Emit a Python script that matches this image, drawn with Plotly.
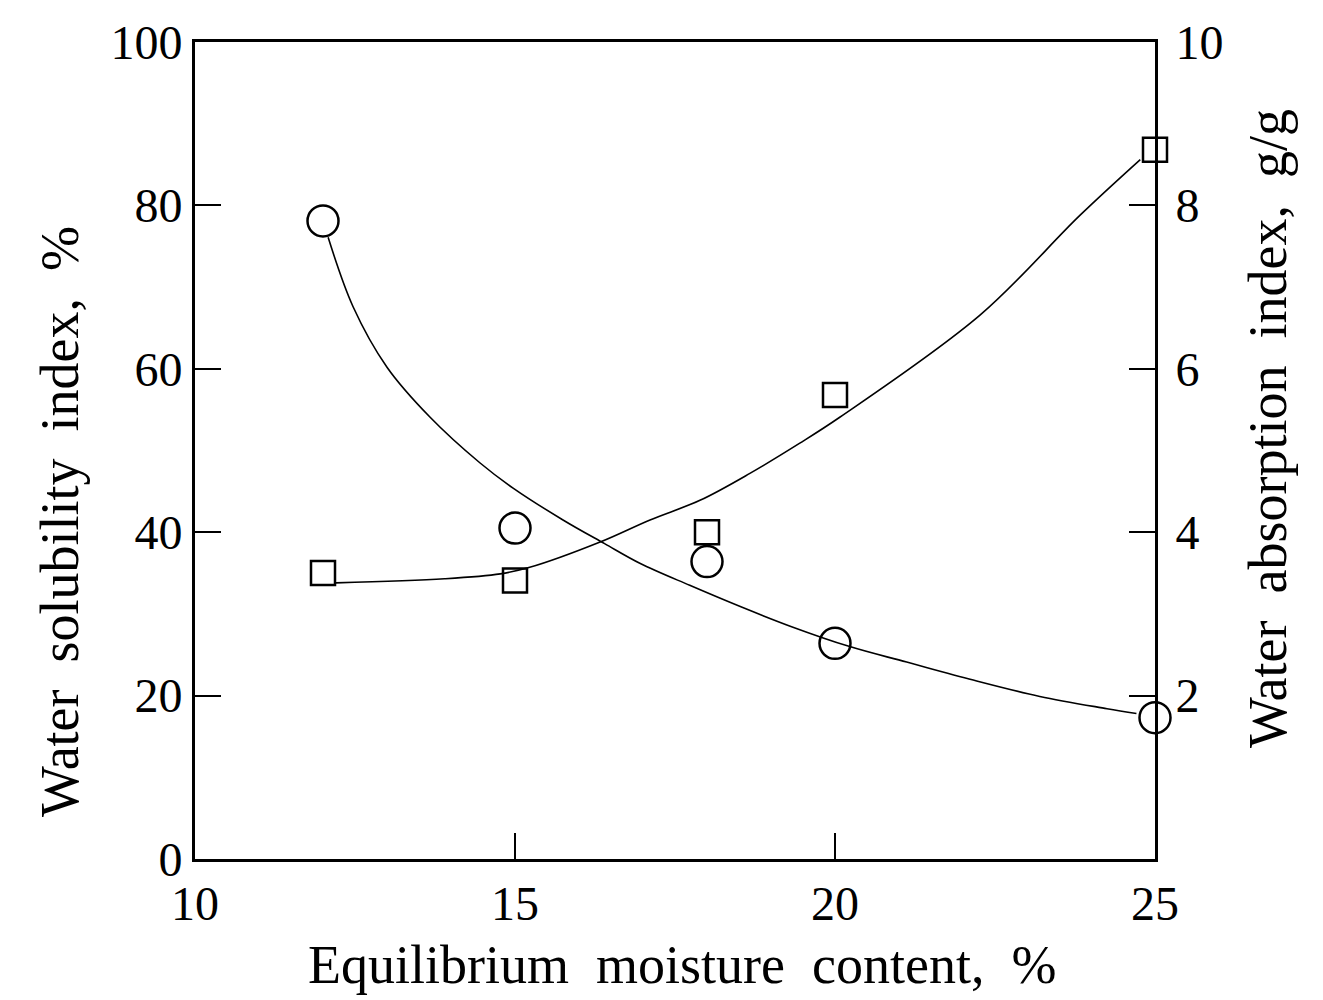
import plotly.graph_objects as go

# Measured data points
moisture = [12, 15, 18, 20, 25]
wsi = [78.1, 40.5, 36.4, 26.4, 17.3]          # Water solubility index, %
wai = [3.50, 3.41, 4.00, 5.68, 8.68]          # Water absorption index, g/g

# Fitted curves
wsi_fit_x = [12.08, 12.47, 13.0, 13.67, 14.45, 14.97, 15.75, 16.4, 16.95, 17.73, 18.52, 19.30,
             20.23, 21.12, 22.16, 23.20, 24.25, 24.71]
wsi_fit_y = [76.1, 67.6, 60.2, 54.1, 48.5, 45.4, 41.5, 38.6, 36.2, 33.5, 30.9, 28.5,
             26.0, 24.1, 21.9, 19.9, 18.4, 17.8]
wai_fit_x = [12.2, 13.9, 14.77, 15.23, 16.33, 17.11, 17.89, 18.67, 19.45, 20.08, 22.27, 23.83, 24.77]
wai_fit_y = [3.38, 3.43, 3.49, 3.57, 3.88, 4.15, 4.39, 4.72, 5.09, 5.41, 6.66, 7.88, 8.56]

x_ticks = [10, 15, 20, 25]
y_ticks = [0, 20, 40, 60, 80, 100]
y2_ticks = [2, 4, 6, 8, 10]

FONT = "Liberation Serif"
fig = go.Figure()

fig.add_trace(go.Scatter(x=wsi_fit_x, y=wsi_fit_y, mode="lines",
                         line=dict(color="black", width=1.6, shape="spline", smoothing=1.0),
                         showlegend=False, hoverinfo="skip"))
fig.add_trace(go.Scatter(x=wai_fit_x, y=wai_fit_y, mode="lines", yaxis="y2",
                         line=dict(color="black", width=1.6, shape="spline", smoothing=1.0),
                         showlegend=False, hoverinfo="skip"))
fig.add_trace(go.Scatter(x=moisture, y=wsi, mode="markers",
                         marker=dict(symbol="circle-open", size=31, color="black", line=dict(width=2.5)),
                         showlegend=False, cliponaxis=False))
fig.add_trace(go.Scatter(x=moisture, y=wai, mode="markers", yaxis="y2",
                         marker=dict(symbol="square-open", size=24, color="black", line=dict(width=2.5)),
                         showlegend=False, cliponaxis=False))

axis_common = dict(showgrid=False, zeroline=False, showline=True, linecolor="black", linewidth=3,
                   ticks="inside", ticklen=26, tickwidth=2, tickcolor="black",
                   tickfont=dict(family=FONT, size=48, color="black"))

fig.update_layout(
    width=1323, height=1000,
    margin=dict(l=195, r=168, t=42, b=141),
    paper_bgcolor="white", plot_bgcolor="white",
    xaxis=dict(range=[10, 25], tickvals=x_ticks, mirror=True, **axis_common),
    yaxis=dict(range=[0, 100], tickvals=y_ticks, **axis_common),
    yaxis2=dict(range=[0, 10], tickvals=y2_ticks, overlaying="y", side="right",
                ticklabelstandoff=8, **axis_common),
    annotations=[
        dict(text="Equilibrium  moisture  content,  %", x=0.507, y=-0.13, xref="paper", yref="paper",
             showarrow=False, xanchor="center", yanchor="middle",
             font=dict(family=FONT, size=54, color="black")),
        dict(text="Water  solubility  index,  %", x=-0.1406, y=0.4125, xref="paper", yref="paper",
             showarrow=False, textangle=-90, xanchor="center", yanchor="middle",
             font=dict(family=FONT, size=54, color="black")),
        dict(text="Water  absorption  index,  g/g", x=1.1177, y=0.5275, xref="paper", yref="paper",
             showarrow=False, textangle=-90, xanchor="center", yanchor="middle",
             font=dict(family=FONT, size=54, color="black")),
    ],
)

fig.write_html("out.html")
